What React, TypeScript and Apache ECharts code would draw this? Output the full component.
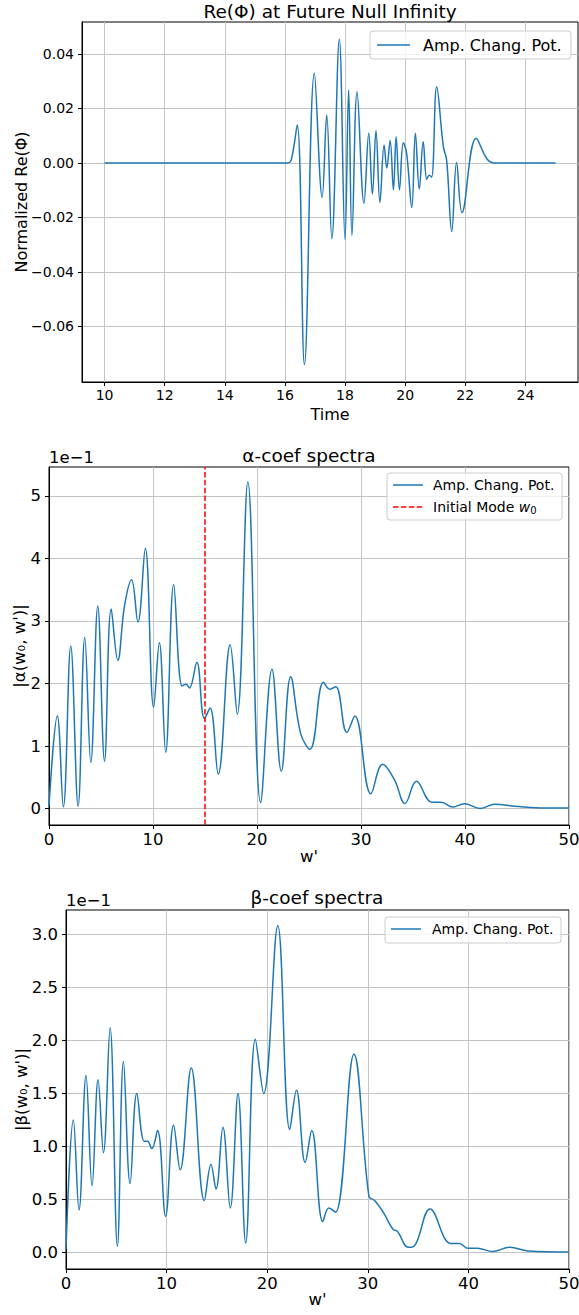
import React, { useEffect, useRef } from "react";
import * as echarts from "echarts";

// ---- Data: Re(Phi) at future null infinity ----
const phiTime = [10, 16.1, 16.22, 16.41, 16.65, 16.98, 17.24, 17.39, 17.56, 17.81, 18.0, 18.12, 18.23, 18.4, 18.63, 18.79, 18.91, 19.03, 19.16, 19.3, 19.39, 19.5, 19.61, 19.7, 19.81, 19.94, 20.05, 20.22, 20.34, 20.47, 20.6, 20.72, 20.8, 20.88, 21.05, 21.27, 21.38, 21.55, 21.71, 21.89, 22.36, 22.72, 22.95, 25];
const phiValue = [0, 0, 0.0015, 0.0139, -0.074, 0.0329, -0.0126, 0.0176, -0.0278, 0.0454, -0.0282, 0.0267, -0.0267, 0.0261, -0.0148, 0.0109, -0.0114, 0.0118, -0.0145, 0.0066, -0.0019, 0.0082, -0.0099, 0.0096, -0.0099, 0.0074, 0.0035, -0.0164, 0.0109, -0.0096, 0.0078, -0.006, -0.0045, -0.0052, 0.0279, 0.006, 0.001, -0.0252, 0.0001, -0.0182, 0.009, 0.0015, 0, 0];

// ---- Data: alpha spectrum (units of 1e-1) ----
const alphaW = [0, 0.8, 1.38, 2.09, 2.8, 3.44, 4.02, 4.69, 5.34, 5.98, 6.62, 7.26, 7.94, 8.55, 9.26, 10.06, 10.61, 11.22, 11.99, 12.79, 13.18, 13.5, 14.21, 14.95, 15.49, 16.27, 17.42, 18.1, 19.12, 20.35, 21.44, 22.34, 23.24, 24.2, 25.1, 26.39, 27.0, 27.58, 28.64, 29.41, 30.95, 32.08, 33.2, 34.23, 35.33, 36.8, 37.7, 38.83, 39.95, 41.47, 42.85, 44.8, 47.7, 50];
const alphaValue = [0.04, 1.48, 0.03, 2.6, 0.04, 2.74, 0.74, 3.24, 0.76, 3.19, 2.37, 3.24, 3.66, 2.98, 4.16, 1.62, 2.65, 0.9, 3.58, 1.96, 1.99, 1.93, 2.34, 1.44, 1.61, 0.55, 2.62, 1.51, 5.22, 0.1, 2.23, 0.6, 2.11, 1.2, 0.95, 2.02, 1.91, 1.95, 1.22, 1.48, 0.24, 0.71, 0.47, 0.085, 0.44, 0.105, 0.105, 0.026, 0.08, 0.005, 0.07, 0.04, 0.01, 0.01];
const initialMode = 15;

// ---- Data: beta spectrum (units of 1e-1) ----
const betaW = [0, 0.73, 1.29, 1.99, 2.59, 3.19, 3.72, 4.38, 5.11, 5.71, 6.37, 7.04, 7.77, 8.1, 8.53, 9.1, 9.9, 10.69, 11.35, 12.45, 13.75, 14.41, 14.91, 15.6, 16.33, 17.1, 17.86, 18.82, 19.65, 21.05, 22.24, 22.91, 23.77, 24.43, 25.53, 26.13, 26.8, 28.62, 30.11, 30.68, 31.6, 32.5, 32.94, 34.03, 34.6, 36.19, 38.25, 39.1, 39.97, 40.9, 42.4, 44.1, 45.9, 50];
const betaValue = [0.03, 1.25, 0.4, 1.67, 0.63, 1.63, 0.94, 2.12, 0.06, 1.8, 0.65, 1.5, 1.05, 1.05, 0.98, 1.15, 0.34, 1.2, 0.78, 1.74, 0.49, 0.83, 0.6, 1.18, 0.42, 1.5, 0.09, 2.01, 1.5, 3.08, 1.16, 1.53, 0.85, 1.15, 0.29, 0.42, 0.38, 1.87, 0.53, 0.49, 0.37, 0.22, 0.2, 0.05, 0.06, 0.41, 0.085, 0.085, 0.04, 0.04, 0.01, 0.05, 0.015, 0.005];

// ---- Tick labels ----
const phiXTicks = [10, 12, 14, 16, 18, 20, 22, 24];
const phiYTicks = [-0.06, -0.04, -0.02, 0, 0.02, 0.04];
const spectrumXTicks = [0, 10, 20, 30, 40, 50];
const alphaYTicks = [0, 1, 2, 3, 4, 5];
const betaYTicks = [0, 0.5, 1, 1.5, 2, 2.5, 3];

const FONT = "'DejaVu Sans', sans-serif";
const BLUE = "#1f77b4";
const GRIDLINE = "#c4c4c4";

const zip = (a: number[], b: number[]) => a.map((x, i) => [x, b[i]]);
const minusFmt = (d: number) => (v: number) => {
  const s = Math.abs(v).toFixed(d);
  return v < -1e-9 ? "\u2212" + s : s;
};

function makeX(gridIndex: number, min: number, max: number, ticks: number[], name: string, fs: number, nameFs: number, nameGap: number) {
  return {
    type: "value",
    gridIndex,
    min,
    max,
    name,
    nameLocation: "middle",
    nameGap,
    nameMoveOverlap: false,
    nameTextStyle: { fontFamily: FONT, fontSize: nameFs, color: "#000" },
    axisLine: { show: true, onZero: false, lineStyle: { color: "#000", width: 1 } },
    axisTick: { show: true, inside: false, length: 4, customValues: ticks, lineStyle: { color: "#000", width: 1 } },
    axisLabel: { customValues: ticks, margin: 6, fontFamily: FONT, fontSize: fs, color: "#000", formatter: (v: number) => String(v), hideOverlap: false },
    splitLine: { show: true, lineStyle: { color: GRIDLINE, width: 1 } },
  };
}

function makeY(gridIndex: number, min: number, max: number, ticks: number[], fmt: (v: number) => string, name: string, fs: number, nameFs: number, nameGap: number) {
  return {
    type: "value",
    gridIndex,
    min,
    max,
    name,
    nameLocation: "middle",
    nameRotate: 90,
    nameGap,
    nameMoveOverlap: false,
    nameTextStyle: { fontFamily: FONT, fontSize: nameFs, color: "#000" },
    axisLine: { show: true, onZero: false, lineStyle: { color: "#000", width: 1 } },
    axisTick: { show: true, inside: false, length: 4, customValues: ticks, lineStyle: { color: "#000", width: 1 } },
    axisLabel: { customValues: ticks, margin: 8, fontFamily: FONT, fontSize: fs, color: "#000", formatter: fmt },
    splitLine: { show: true, lineStyle: { color: GRIDLINE, width: 1 } },
  };
}

function legendBox(x: number, y: number, w: number, h: number) {
  return {
    type: "rect",
    shape: { x, y, width: w, height: h, r: 3 },
    style: { fill: "rgba(255,255,255,0.8)", stroke: "#cccccc", lineWidth: 1 },
    z: 100,
  };
}
function legendLine(x1: number, x2: number, y: number, color: string, dash?: number[]) {
  return {
    type: "line",
    shape: { x1, y1: y, x2, y2: y },
    style: { stroke: color, lineWidth: 1.5, lineDash: dash },
    z: 101,
  };
}
function txt(x: number, y: number, text: string, fs: number, align = "left", rich?: any) {
  return {
    type: "text",
    x,
    y,
    z: 101,
    style: { text, fill: "#000", fontFamily: FONT, fontSize: fs, align, verticalAlign: "middle", rich },
  };
}

export default function App() {
  const ref = useRef<HTMLDivElement>(null);
  useEffect(() => {
    if (!ref.current) return;
    const chart = echarts.init(ref.current, undefined, { renderer: "svg" });
    const gridBase = { show: true, borderColor: "#000", borderWidth: 1, backgroundColor: "transparent", containLabel: false, outerBoundsMode: "none" };
    const option: any = {
      animation: false,
      backgroundColor: "#fff",
      grid: [
        { ...gridBase, left: 82, top: 22, width: 496, height: 360 },
        { ...gridBase, left: 49, top: 467, width: 520, height: 358 },
        { ...gridBase, left: 66, top: 910, width: 503, height: 359 },
      ],
      xAxis: [
        makeX(0, 9.25, 25.75, phiXTicks, "Time", 14, 16, 24),
        makeX(1, 0, 50, spectrumXTicks, "w'", 16.5, 16.5, 23),
        makeX(2, 0, 50, spectrumXTicks, "w'", 16.5, 16.5, 22),
      ],
      yAxis: [
        makeY(0, -0.0804, 0.0517, phiYTicks, minusFmt(2), "Normalized Re(\u03a6)", 14, 16, 53),
        makeY(1, -0.26, 5.46, alphaYTicks, (v: number) => String(Math.round(v)), "|\u03b1(w\u2080, w')|", 16.5, 16.5, 21),
        makeY(2, -0.155, 3.229, betaYTicks, (v: number) => v.toFixed(1), "|\u03b2(w\u2080, w')|", 16.5, 16.5, 36),
      ],
      series: [
        {
          type: "line", name: "Amp. Chang. Pot.", xAxisIndex: 0, yAxisIndex: 0,
          data: zip(phiTime, phiValue), showSymbol: false, smooth: 0.4,
          lineStyle: { color: BLUE, width: 1.5 }, itemStyle: { color: BLUE },
        },
        {
          type: "line", name: "Amp. Chang. Pot.", xAxisIndex: 1, yAxisIndex: 1,
          data: zip(alphaW, alphaValue), showSymbol: false, smooth: 0.4,
          lineStyle: { color: BLUE, width: 1.5 }, itemStyle: { color: BLUE },
        },
        {
          type: "line", name: "Initial Mode", xAxisIndex: 1, yAxisIndex: 1,
          data: [[initialMode, -0.26], [initialMode, 5.46]], showSymbol: false,
          lineStyle: { color: "#ff0000", width: 1.5, type: [5.5, 2.4] }, itemStyle: { color: "#ff0000" },
        },
        {
          type: "line", name: "Amp. Chang. Pot.", xAxisIndex: 2, yAxisIndex: 2,
          data: zip(betaW, betaValue), showSymbol: false, smooth: 0.4,
          lineStyle: { color: BLUE, width: 1.5 }, itemStyle: { color: BLUE },
        },
      ],
      graphic: [
        txt(330, 11, "Re(\u03a6) at Future Null Infinity", 18.5, "center"),
        txt(309, 455, "\u03b1-coef spectra", 18.5, "center"),
        txt(317, 897, "\u03b2-coef spectra", 18.5, "center"),
        txt(49, 457, "1e\u22121", 16.5, "left"),
        txt(66, 900, "1e\u22121", 16.5, "left"),
        legendBox(370, 31, 201, 28),
        legendLine(377, 410, 45, BLUE),
        txt(423, 45, "Amp. Chang. Pot.", 16),
        legendBox(387, 473, 175, 47),
        legendLine(393, 423, 485, BLUE),
        legendLine(393, 423, 507, "#ff0000", [5.5, 2.4]),
        txt(433, 485, "Amp. Chang. Pot.", 14),
        txt(433, 507, "Initial Mode {i|w}{s|0}", 14, "left", {
          i: { fontFamily: FONT, fontSize: 14, fontStyle: "italic", fill: "#000" },
          s: { fontFamily: FONT, fontSize: 10, fill: "#000", verticalAlign: "bottom", padding: [6, 0, 0, 0] },
        }),
        legendBox(385, 917, 176, 26),
        legendLine(391, 421, 929, BLUE),
        txt(432, 929, "Amp. Chang. Pot.", 14),
      ],
    };
    chart.setOption(option);
    return () => chart.dispose();
  }, []);
  return <div ref={ref} style={{ position: "absolute", left: 0, top: 0, width: 579, height: 1315 }} />;
}
